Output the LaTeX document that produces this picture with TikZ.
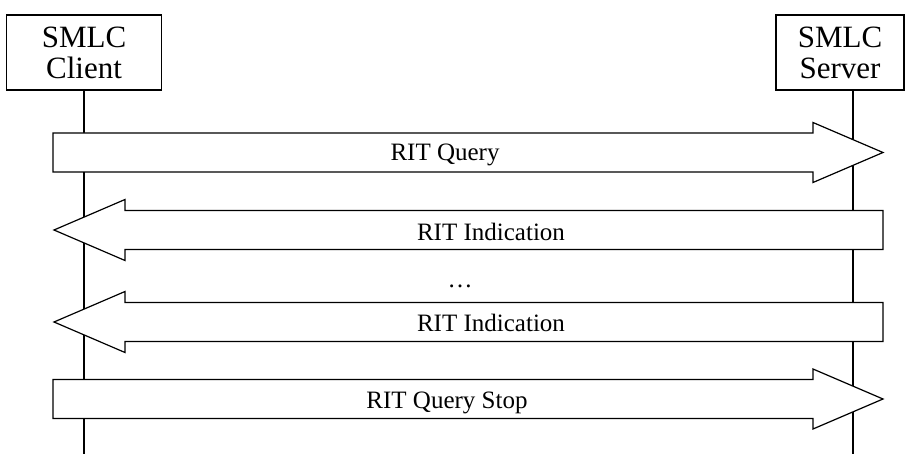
\documentclass[tikz,border=0pt]{standalone}
\usepackage{fontspec}
\setmainfont{Liberation Serif}
\begin{document}
\begin{tikzpicture}[x=1pt,y=-1pt,line width=1.2pt,
  entity/.style={draw,fill=white,minimum height=75pt,align=center,inner sep=0pt,
    font=\fontsize{31}{31}\selectfont},
  msg/.style={draw,fill=white,line join=miter},
  lbl/.style={anchor=base,inner sep=0pt,font=\fontsize{25}{25}\selectfont}]
\useasboundingbox (0,0) rectangle (905,454);
% entities
\node[entity,minimum width=155pt] (client) at (84,52.5) {SMLC\\Client};
\node[entity,minimum width=128pt] (server) at (840,52.5) {SMLC\\Server};
% lifelines
\coordinate (clientend) at (84,454);
\coordinate (serverend) at (853,454);
\draw (client.south) -- (clientend);
\draw (server.south -| serverend) -- (serverend);
% messages
\newcommand\msgright[1]{%
  \draw[msg] (53,#1-19.5) -- (813,#1-19.5) -- (813,#1-30) -- (883,#1)
    -- (813,#1+30) -- (813,#1+19.5) -- (53,#1+19.5) -- cycle;}
\newcommand\msgleft[1]{%
  \draw[msg] (883,#1-19.5) -- (125,#1-19.5) -- (125,#1-30.5) -- (54,#1)
    -- (125,#1+30.5) -- (125,#1+19.5) -- (883,#1+19.5) -- cycle;}
\msgright{152.5}
\node[lbl] (m1) at (445,161) {RIT Query};
\msgleft{230}
\node[lbl] (m2) at (491,241) {RIT Indication};
\node[lbl] (dots) at (460,288) {\dots};
\msgleft{322}
\node[lbl] (m3) at (491,332) {RIT Indication};
\msgright{399}
\node[lbl] (m4) at (447,408) {RIT Query Stop};
\end{tikzpicture}
\end{document}
